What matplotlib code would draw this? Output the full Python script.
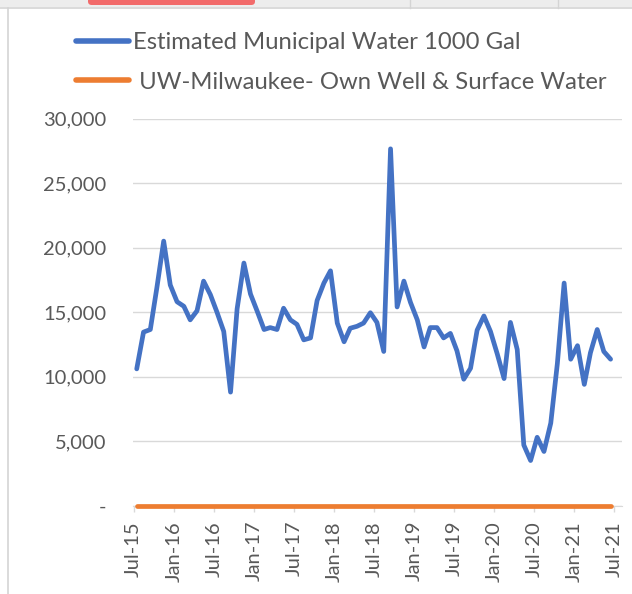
import matplotlib
matplotlib.use("Agg")
import matplotlib.pyplot as plt
from matplotlib.patches import Rectangle, FancyBboxPatch
from matplotlib.lines import Line2D
import pandas as pd

plt.rcParams['font.family'] = ['Lato', 'DejaVu Sans']

# ---- data ----
start_month = "2015-07-01"
municipal = [10600, 13450, 13650, 16900, 20500, 17100, 15800, 15450, 14400, 15100,
             17400, 16350, 15000, 13500, 8800, 15250, 18800, 16400, 15050, 13650,
             13800, 13650, 15300, 14400, 14050, 12850, 13000, 15900, 17250, 18200,
             14150, 12700, 13750, 13900, 14150, 14950, 14200, 11950, 27650, 15400,
             17400, 15750, 14400, 12300, 13800, 13800, 13000, 13350, 12000, 9800,
             10650, 13600, 14700, 13500, 11750, 9850, 14200, 12100, 4700, 3500,
             5300, 4200, 6400, 11000, 17250, 11350, 12400, 9400, 11850, 13650,
             11950, 11350]
own_well = [0] * len(municipal)
series_names = ["Estimated Municipal Water 1000 Gal",
                " UW-Milwaukee- Own Well & Surface Water"]
y_ticks = [0, 5000, 10000, 15000, 20000, 25000, 30000]
y_tick_labels = ["-", "5,000", "10,000", "15,000", "20,000", "25,000", "30,000"]
x_tick_labels = ["Jul-15", "Jan-16", "Jul-16", "Jan-17", "Jul-17", "Jan-18", "Jul-18",
                 "Jan-19", "Jul-19", "Jan-20", "Jul-20", "Jan-21", "Jul-21"]

dates = pd.date_range(start_month, periods=len(municipal), freq="MS") + pd.Timedelta(days=14)
tick_dates = pd.date_range(start_month, periods=len(x_tick_labels), freq="6MS")

BLUE = "#4472C4"
ORANGE = "#ED7D31"
GRID = "#D9D9D9"
TXT = "#595959"

W, H = 632, 594
fig = plt.figure(figsize=(W / 100, H / 100), dpi=100)
fig.patch.set_facecolor("white")

# spreadsheet artifacts at top / left
fig.add_artist(Rectangle((0, 1 - 7 / H), 1, 7 / H, transform=fig.transFigure,
                         facecolor="#EDEDED", edgecolor="none"))
fig.add_artist(Line2D([0, 1], [1 - 7.5 / H] * 2, transform=fig.transFigure, color="#D4D4D4", lw=1.2))
fig.add_artist(Line2D([7.5 / W] * 2, [0, 1 - 7.5 / H], transform=fig.transFigure, color="#D4D4D4", lw=1.2))
for xv in [410, 558]:
    fig.add_artist(Line2D([xv / W] * 2, [1 - 7.5 / H, 1], transform=fig.transFigure, color="#D4D4D4", lw=1))
fig.add_artist(FancyBboxPatch((88 / W, 1 - 5 / H), (255 - 88) / W, 8 / H,
                              boxstyle="round,pad=0,rounding_size=0.006",
                              transform=fig.transFigure, facecolor="#F26B6B", edgecolor="none"))

ax = fig.add_axes([133 / W, (H - 505.7) / H, (622 - 133) / W, (505.7 - 118.5) / H])
ax.plot(dates, municipal, color=BLUE, lw=3.4, solid_joinstyle="round",
        solid_capstyle="round", clip_on=False, zorder=3, label=series_names[0])
ax.plot(dates, own_well, color=ORANGE, lw=3.4, solid_capstyle="round",
        clip_on=False, zorder=4, label=series_names[1])

ax.set_ylim(0, 30000)
ax.set_xlim(pd.Timestamp("2015-06-28"), pd.Timestamp("2021-08-06"))
ax.set_yticks(y_ticks)
ax.set_yticklabels(y_tick_labels)
ax.set_xticks(tick_dates)
ax.set_xticklabels(x_tick_labels, rotation=90)

ax.grid(axis="y", color=GRID, lw=1.0)
ax.set_axisbelow(True)
for s in ["top", "right", "left"]:
    ax.spines[s].set_visible(False)
ax.spines["bottom"].set_color(GRID)
ax.tick_params(axis="y", length=0, pad=19, labelsize=14.5, labelcolor=TXT)
ax.tick_params(axis="x", length=4, width=1, color=GRID, direction="out",
               pad=7, labelsize=14.5, labelcolor=TXT)

handles = [Line2D([], [], color=BLUE, lw=4, solid_capstyle="round"),
           Line2D([], [], color=ORANGE, lw=4, solid_capstyle="round")]
leg = fig.legend(handles, series_names, loc="upper left",
                 bbox_to_anchor=(76 / W, 1 - 32 / H), frameon=False,
                 borderpad=0, borderaxespad=0, handlelength=2.2,
                 handletextpad=0.18, labelspacing=0.78, fontsize=17.2)
for t in leg.get_texts():
    t.set_color(TXT)

fig.savefig("out.png", dpi=100)
